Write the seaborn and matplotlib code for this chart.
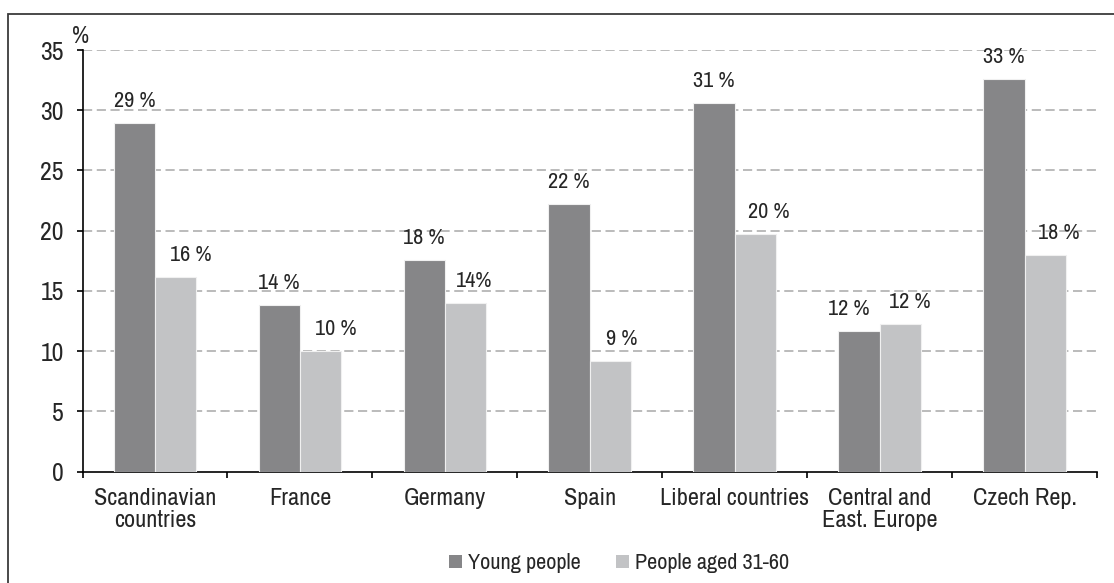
import matplotlib
matplotlib.use("Agg")
import matplotlib.pyplot as plt
from matplotlib import font_manager as fm
from matplotlib.patches import Rectangle, Patch
import seaborn as sns
import pandas as pd

# Share of people in each group, by region (%)
regions = ["Scandinavian\ncountries", "France", "Germany", "Spain",
           "Liberal countries", "Central and\nEast. Europe", "Czech Rep."]
young = [28.9, 13.8, 17.6, 22.2, 30.6, 11.7, 32.6]
older = [16.2, 10.0, 14.0, 9.2, 19.7, 12.3, 18.0]
young_labels = ["29 %", "14 %", "18 %", "22 %", "31 %", "12 %", "33 %"]
older_labels = ["16 %", "10 %", "14%", "9 %", "20 %", "12 %", "18 %"]
series_names = ["Young people", "People aged 31-60"]
y_ticks = [0, 5, 10, 15, 20, 25, 30, 35]

# horizontal nudges of the value labels (pixels)
young_nudge = [0, 0, 0, 0, 0, -10, 0]
older_nudge = [15, 15, 9, 11, 13, 9, 14]

colors = ["#868688", "#c2c3c5"]

df = pd.DataFrame({
    "region": regions * 2,
    "value": young + older,
    "group": [series_names[0]] * len(regions) + [series_names[1]] * len(regions),
})

sns.set_theme(style="white")

# prefer a narrow grotesque face, fall back to the regular one
available = {f.name for f in fm.fontManager.ttflist}
narrow_pref = ["Liberation Sans Narrow", "Arial Narrow", "Nimbus Sans Narrow",
               "Archivo Narrow", "Roboto Condensed", "PT Sans Narrow",
               "IBM Plex Sans Condensed", "Open Sans Condensed"]
families = [f for f in narrow_pref if f in available][:1] + ["Liberation Sans", "DejaVu Sans"]
plt.rcParams["font.family"] = families

DPI = 100
fig = plt.figure(figsize=(11.14, 5.83), dpi=DPI)
ax = fig.add_axes([82.5 / 1114, 1 - 471.7 / 583, (1097 - 82.5) / 1114, (471.7 - 50) / 583])

sns.barplot(data=df, x="region", y="value", hue="group", order=regions,
            hue_order=series_names, palette=colors, saturation=1,
            width=0.57, gap=0, edgecolor="#f0f0f0", linewidth=0.8,
            legend=False, ax=ax, zorder=3)

ax.set_xlim(-0.5, len(regions) - 0.5)
ax.set_ylim(0, 35)
ax.set_yticks(y_ticks)
ax.set_xlabel("")
ax.set_ylabel("")

# dashed horizontal grid
for v in y_ticks[1:]:
    ax.axhline(v, color="#a8a8a8", linewidth=1.1, linestyle=(0, (6, 3)), zorder=1)

for side in ("top", "right"):
    ax.spines[side].set_visible(False)
for side in ("left", "bottom"):
    ax.spines[side].set_color("black")
    ax.spines[side].set_linewidth(1.2)

ax.tick_params(axis="y", direction="out", length=4.5, width=1.2, color="black",
               pad=9, labelsize=18.5, left=True)
# boundaries between categories carry the tick marks, centres carry the labels
ax.set_xticks([i - 0.5 for i in range(len(regions) + 1)])
ax.set_xticklabels([])
ax.set_xticks(range(len(regions)), minor=True)
ax.set_xticklabels(regions, minor=True, fontsize=17.5, linespacing=1.05)
ax.tick_params(axis="x", which="major", direction="out", length=4.5, width=1.2,
               color="black", bottom=True)
ax.tick_params(axis="x", which="minor", length=0, pad=12)

# value labels above the bars
bar_w = 0.57 / 2
px2pt = 72 / DPI
for i in range(len(regions)):
    ax.annotate(young_labels[i], xy=(i - bar_w / 2, young[i]),
                xytext=(young_nudge[i] * px2pt, 16 * px2pt), textcoords="offset points",
                ha="center", va="baseline", fontsize=16, zorder=4)
    ax.annotate(older_labels[i], xy=(i + bar_w / 2, older[i]),
                xytext=(older_nudge[i] * px2pt, 16 * px2pt), textcoords="offset points",
                ha="center", va="baseline", fontsize=16, zorder=4)

# unit above the value axis
ax.annotate("%", xy=(0, 1), xycoords="axes fraction", xytext=(-2 * px2pt, 7 * px2pt),
            textcoords="offset points", ha="center", va="baseline", fontsize=17)

handles = [Patch(facecolor=c, edgecolor="none") for c in colors]
fig.legend(handles, series_names, loc="center", bbox_to_anchor=(0.556, 0.034),
           ncol=2, frameon=False, fontsize=16, handlelength=0.55, handleheight=0.55,
           handletextpad=0.3, columnspacing=1.6)

# outer frame of the chart area
fig.patches.append(Rectangle((8 / 1114, -0.05), 1.1, 1.05 - 14 / 583,
                             transform=fig.transFigure, fill=False,
                             edgecolor="#3a3a3a", linewidth=1.3, clip_on=False))

fig.savefig("out.png", dpi=DPI, facecolor="white")
